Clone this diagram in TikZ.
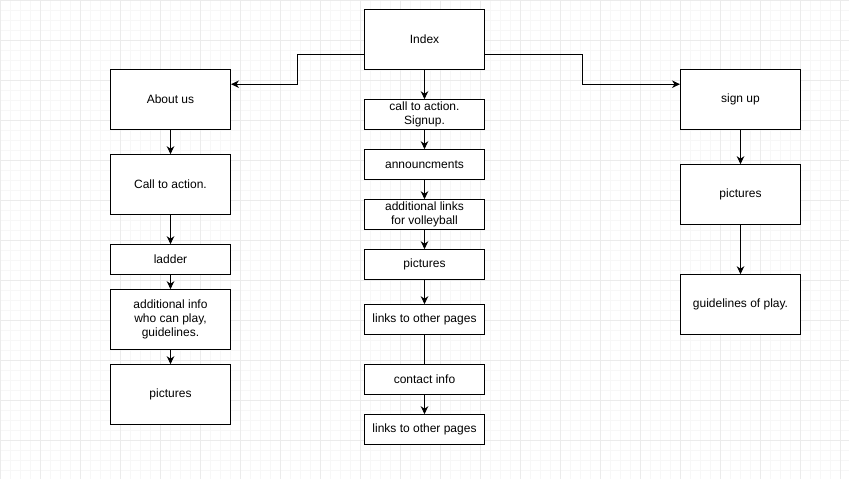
\documentclass[tikz,border=0pt]{standalone}
\usepackage{fontspec}
\setmainfont{Liberation Sans}
\usetikzlibrary{arrows.meta}
\definecolor{gminor}{HTML}{F7F7F7}
\definecolor{gmajor}{HTML}{EBEBEB}
\begin{document}
\begin{tikzpicture}[x=1pt,y=-1pt,
  box/.style={draw=black,line width=1pt,fill=white,anchor=north west,inner sep=0pt,
    align=center,font=\fontsize{12}{14}\selectfont},
  conn/.style={line width=1pt,-{Stealth[length=8pt,width=7.5pt,inset=2.5pt]}},
  plain/.style={line width=1pt}]
\useasboundingbox (0,0) rectangle (849,479);
\fill[white] (0,0) rectangle (849,479);
\foreach \i in {0.5,10.5,...,840.5} \draw[gminor,line width=1pt] (\i,0) -- (\i,479);
\foreach \j in {0.5,10.5,...,470.5} \draw[gminor,line width=1pt] (0,\j) -- (849,\j);
\foreach \i in {0.5,40.5,...,840.5} \draw[gmajor,line width=1pt] (\i,0) -- (\i,479);
\foreach \j in {0.5,40.5,...,470.5} \draw[gmajor,line width=1pt] (0,\j) -- (849,\j);
% nodes
\node[box,minimum width=120pt,minimum height=60pt] (index) at (364,9.2) {Index};
\node[box,minimum width=120pt,minimum height=60pt] (about) at (110,69.2) {About us};
\node[box,minimum width=120pt,minimum height=60pt] (cta) at (110,154.2) {Call to action.};
\node[box,minimum width=120pt,minimum height=30pt] (ladder) at (110,244.2) {ladder};
\node[box,minimum width=120pt,minimum height=60pt] (addinfo) at (110,289.2) {additional info\\who can play,\\guidelines.};
\node[box,minimum width=120pt,minimum height=60pt] (lpics) at (110,364.2) {pictures};
\node[box,minimum width=120pt,minimum height=30pt] (mcta) at (364,99.2) {call to action.\\Signup.};
\node[box,minimum width=120pt,minimum height=30pt] (ann) at (364,149.2) {announcments};
\node[box,minimum width=120pt,minimum height=30pt] (addlinks) at (364,199.2) {additional links\\for volleyball};
\node[box,minimum width=120pt,minimum height=30pt] (mpics) at (364,249.2) {pictures};
\node[box,minimum width=120pt,minimum height=30pt] (links1) at (364,304.2) {links to other pages};
\node[box,minimum width=120pt,minimum height=30pt] (contact) at (364,364.2) {contact info};
\node[box,minimum width=120pt,minimum height=30pt] (links2) at (364,414.2) {links to other pages};
\node[box,minimum width=120pt,minimum height=60pt] (signup) at (680,69.2) {sign up};
\node[box,minimum width=120pt,minimum height=60pt] (rpics) at (680,164.2) {pictures};
\node[box,minimum width=120pt,minimum height=60pt] (guide) at (680,274.2) {guidelines of play.};
% connectors
\draw[conn] (index.west |- 0,54) -| (297.5,84.2) -- (about.east |- 0,84.2);
\draw[conn] (index.east |- 0,54) -| (582.5,84.2) -- (signup.west |- 0,84.2);
\draw[conn] (index) -- (mcta);
\draw[conn] (mcta) -- (ann);
\draw[conn] (ann) -- (addlinks);
\draw[conn] (addlinks) -- (mpics);
\draw[conn] (mpics) -- (links1);
\draw[plain] (links1) -- (contact);
\draw[conn] (contact) -- (links2);
\draw[conn] (about) -- (cta);
\draw[conn] (cta) -- (ladder);
\draw[conn] (ladder) -- (addinfo);
\draw[conn] (addinfo) -- (lpics);
\draw[conn] (signup) -- (rpics);
\draw[conn] (rpics) -- (guide);
\end{tikzpicture}
\end{document}
